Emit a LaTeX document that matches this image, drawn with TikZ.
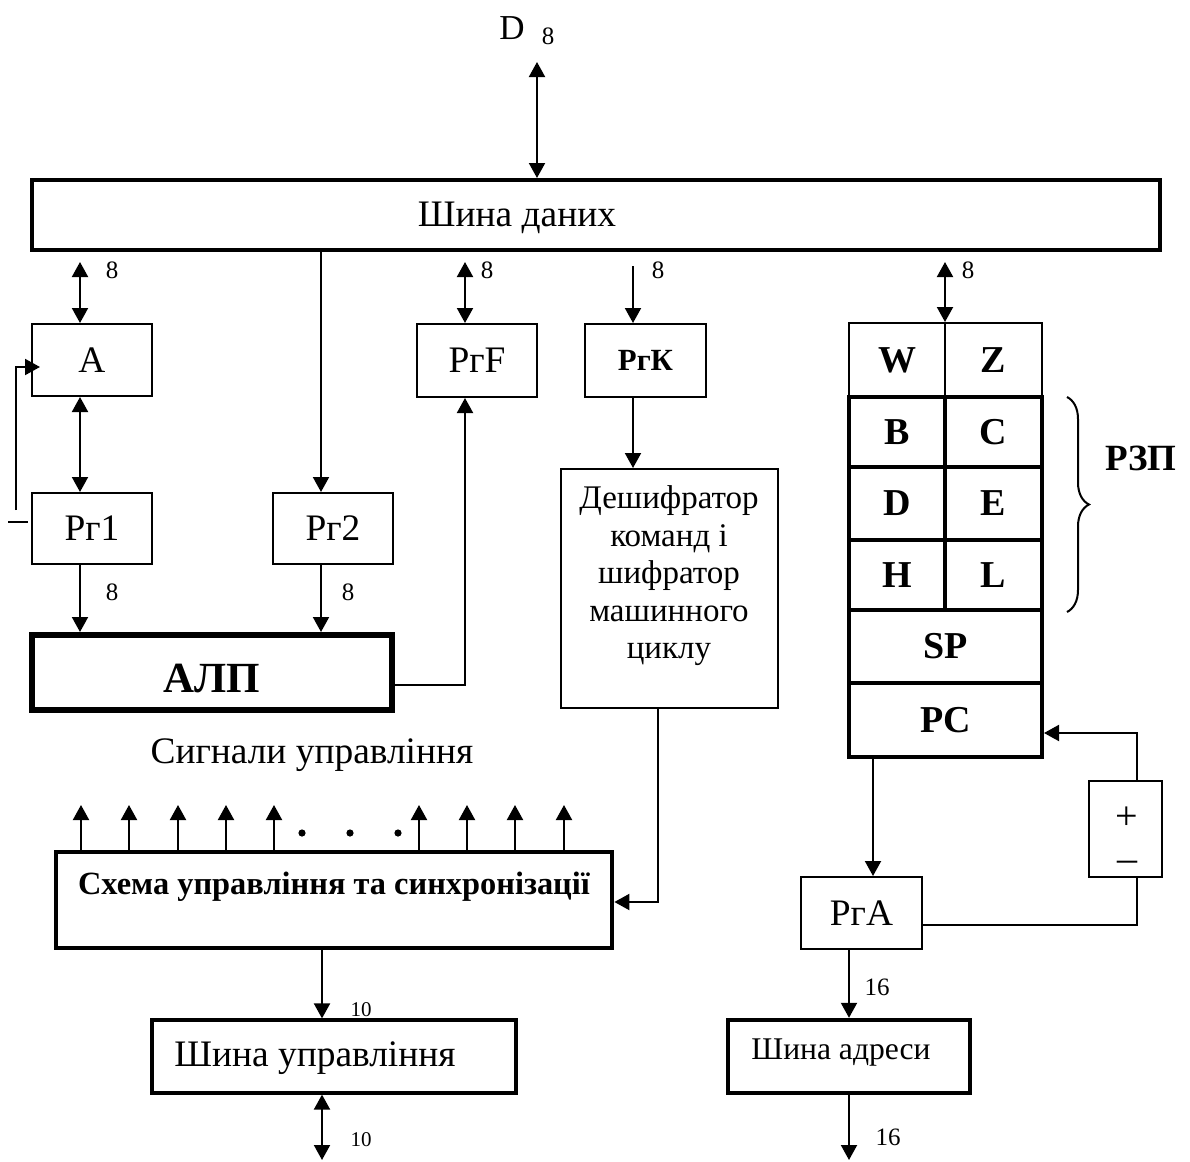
\documentclass[tikz,border=0pt]{standalone}
\usepackage{fontspec}
\setmainfont{Liberation Serif}
\usetikzlibrary{arrows.meta,decorations.pathreplacing}

\begin{document}
\begin{tikzpicture}[x=0.5pt,y=-0.5pt,
  tip/.tip={Triangle[width=8pt,length=7.5pt]},
  arr/.style={line width=1pt,-tip},
  dbl/.style={line width=1pt,tip-tip},
  wire/.style={line width=1pt},
  box/.style={draw,line width=1pt,rectangle,inner sep=0pt,
    font=\fontsize{18.7}{22}\selectfont},
  txt/.style={inner sep=0pt,font=\fontsize{18.7}{22}\selectfont},
  lbl/.style={inner sep=0pt,font=\fontsize{12.5}{14}\selectfont},
  lbls/.style={inner sep=0pt,font=\fontsize{10.5}{12}\selectfont},
  cell/.style={draw,line width=2pt,rectangle,inner sep=0pt,
    font=\bfseries\fontsize{19}{22}\selectfont},
  wcell/.style={cell,line width=1pt},
]
\useasboundingbox (0,0) rectangle (1190,1162);

% data bus
\node[draw,line width=2pt,inner sep=0pt,minimum width=564pt,minimum height=35pt] (bus) at (596,215) {};
\node[txt] (busT) at (517,218) {Шина даних};
\node[txt,font=\fontsize{17.5}{21}\selectfont] (Dl) at (512,28) {D};
\node[lbl] (D8) at (548,36) {8};

% left registers and ALU
\node[box,minimum width=60pt,minimum height=36pt] (A) at (92,360) {A};
\node[box,minimum width=60pt,minimum height=35.5pt] (R1) at (92,528.5) {Рг1};
\node[box,minimum width=60pt,minimum height=35.5pt] (R2) at (333,528.5) {Рг2\hspace{13pt}};
\node[box,minimum width=60pt,minimum height=36.5pt] (RF) at (477,360.5) {РгF};
\node[box,minimum width=60.5pt,minimum height=36.5pt,font=\bfseries\fontsize{15.4}{18}\selectfont] (RK) at (645.5,360.5) {РгК};
\node[draw,line width=3pt,inner sep=0pt,minimum width=180pt,minimum height=37.5pt] (ALU) at (212,672.5) {};
\node[inner sep=0pt,font=\bfseries\fontsize{21.5}{25}\selectfont] (ALUT) at (212,679) {АЛП};

% instruction decoder
\node[box,minimum width=108.5pt,minimum height=119.5pt] (dec) at (669.5,588.5) {};
\node[txt,align=center,font=\fontsize{16.5}{18.75}\selectfont] (decT) at (669,576)
  {Дешифратор\\команд і\\шифратор\\машинного\\циклу};

% control unit
\node[txt] (sigT) at (312,755) {Сигнали управління};
\node[draw,line width=2.4pt,inner sep=0pt,minimum width=278pt,minimum height=48pt] (ctrl) at (334,900) {};
\node[inner sep=0pt,font=\bfseries\fontsize{16.2}{19}\selectfont] (ctrlT) at (334,887) {Схема управління та синхронізації};
\node[draw,line width=1.6pt,inner sep=0pt,minimum width=182pt,minimum height=36.5pt] (sbus) at (334,1056.5) {};
\node[txt] (sbusT) at (315,1058) {Шина управління};

% register file
\node[wcell,minimum width=48pt,minimum height=37pt] (W) at (897,360) {W};
\node[wcell,minimum width=48.5pt,minimum height=37pt] (Z) at (993.5,360) {Z};
\node[cell,minimum width=48pt,minimum height=35pt] (B) at (897,432) {B};
\node[cell,minimum width=48.5pt,minimum height=35pt] (C) at (993.5,432) {C};
\node[cell,minimum width=48pt,minimum height=36.5pt] (D) at (897,503.5) {D};
\node[cell,minimum width=48.5pt,minimum height=36.5pt] (E) at (993.5,503.5) {E\hspace{12pt}};
\node[cell,minimum width=48pt,minimum height=35pt] (H) at (897,575) {H};
\node[cell,minimum width=48.5pt,minimum height=35pt] (L) at (993.5,575) {L};
\node[cell,minimum width=96.5pt,minimum height=36.5pt] (SP) at (945.5,646.5) {SP};
\node[cell,minimum width=96.5pt,minimum height=37pt] (PC) at (945.5,720) {PC};
\draw[decorate,decoration={brace,amplitude=11pt},line width=1pt] (1067,397) -- (1067,612);
\node[inner sep=0pt,font=\bfseries\fontsize{18.5}{21}\selectfont] (RZP) at (1141,458) {РЗП};

% address path
\node[box,minimum width=60.5pt,minimum height=36pt] (RgA) at (861.5,913) {РгA\hspace{8.5pt}};
\node[box,minimum width=36.5pt,minimum height=48pt] (pm) at (1125.5,829) {};
\node[txt,align=center,font=\fontsize{20}{21}\selectfont] (pmT) at (1127,839.5) {+\\–};
\node[draw,line width=2.2pt,inner sep=0pt,minimum width=121pt,minimum height=36.5pt] (abus) at (849,1056.5) {};
\node[txt,font=\fontsize{15.8}{18}\selectfont] (abusT) at (841,1053) {Шина адреси};

% connectors: data side
\coordinate (Dt) at (537,62);
\draw[dbl] (Dt) -- (Dt |- bus.north);
\coordinate (a8) at (80,262);
\draw[dbl] (a8) -- (a8 |- A.north);
\draw[dbl] (a8 |- A.south) -- (a8 |- R1.north);
\draw[arr] (a8 |- R1.south) -- (a8 |- ALU.north);
\coordinate (fb) at (16,510);
\coordinate (fbt) at (40,367);
\draw[arr] (fb) |- (fbt);
\coordinate (m1) at (8,522);
\coordinate (m2) at (28,522);
\draw[wire] (m1) -- (m2);
\coordinate (r2x) at (321,0);
\draw[arr] (r2x |- bus.south) -- (r2x |- R2.north);
\draw[arr] (r2x |- R2.south) -- (r2x |- ALU.north);
\coordinate (fx) at (465,685);
\draw[arr] (fx -| ALU.east) -- (fx) -- (fx |- RF.south);
\coordinate (f8) at (465,262);
\draw[dbl] (f8) -- (f8 |- RF.north);
\coordinate (k8) at (633,266);
\draw[arr] (k8) -- (k8 |- RK.north);
\draw[arr] (k8 |- RK.south) -- (k8 |- dec.north);
\coordinate (dx) at (658,902);
\draw[arr] (dx |- dec.south) -- (dx) -- (dx -| ctrl.east);

% control signals
\foreach \x [count=\i] in {81,129,178,226,274,419,467,515,564} {
  \coordinate (s\i) at (\x,805);
  \draw[arr] (s\i |- ctrl.north) -- (s\i);
}
\foreach \x in {302,350,398} \fill (\x,833) circle[radius=1.8pt];
\coordinate (cx) at (322,1160);
\draw[arr] (cx |- ctrl.south) -- (cx |- sbus.north);
\draw[dbl] (cx |- sbus.south) -- (cx);

% connectors: address side
\coordinate (w8) at (945,262);
\draw[dbl] (w8) -- (w8 |- W.north);
\coordinate (px) at (873,0);
\draw[arr] (px |- PC.south) -- (px |- RgA.north);
\coordinate (qx) at (1137,925);
\draw[wire] (qx -| RgA.east) -- (qx) -- (qx |- pm.south);
\coordinate (qt) at (1137,733);
\draw[arr] (qt |- pm.north) -- (qt) -- (qt -| PC.east);
\coordinate (ax) at (849,1160);
\draw[arr] (ax |- RgA.south) -- (ax |- abus.north);
\draw[arr] (ax |- abus.south) -- (ax);

% bus widths
\node[lbl] (n1) at (112,270) {8};
\node[lbl] (n2) at (487,270) {8};
\node[lbl] (n3) at (658,270) {8};
\node[lbl] (n4) at (968,270) {8};
\node[lbl] (n5) at (112,592) {8};
\node[lbl] (n6) at (348,592) {8};
\node[lbls] (n7) at (361,1010) {10};
\node[lbls] (n8) at (361,1140) {10};
\node[lbl] (n9) at (877,987) {16};
\node[lbl] (n10) at (888,1137) {16};
\end{tikzpicture}
\end{document}
